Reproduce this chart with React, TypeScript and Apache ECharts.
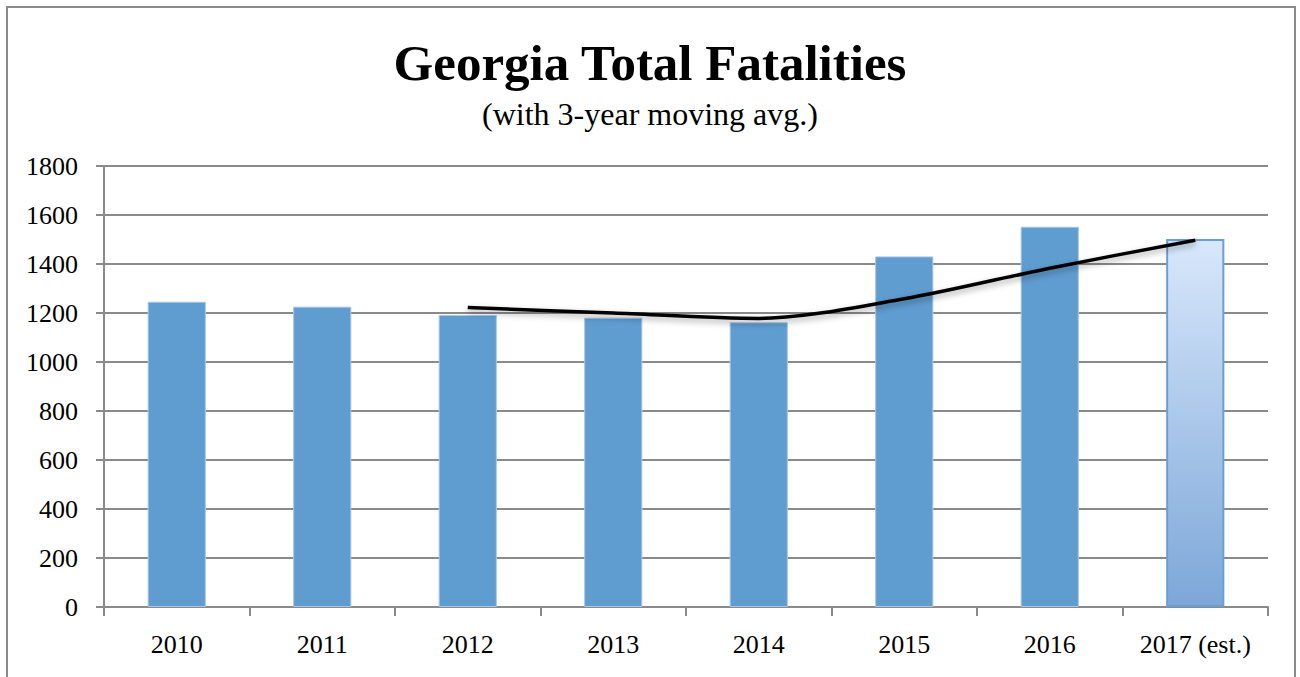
import React, { useEffect, useRef } from "react";
import * as echarts from "echarts";

const categories = ["2010", "2011", "2012", "2013", "2014", "2015", "2016", "2017 (est.)"];
const fatalities = [1246, 1226, 1192, 1181, 1162, 1431, 1552, 1502];
const movingAvg = [null, null, 1222, 1200, 1178, 1258, 1383, 1497];
const yTicks = { min: 0, max: 1800, interval: 200 };
const titleText = "Georgia Total Fatalities";
const subtitleText = "(with 3-year moving avg.)";

const FONT = "'Liberation Serif', 'DejaVu Serif', serif";
const GRAY = "#8a8a8a";

export default function App() {
  const ref = useRef<HTMLDivElement>(null);
  useEffect(() => {
    if (!ref.current) return;
    const chart = echarts.init(ref.current, undefined, { renderer: "svg" });
    const barData = fatalities.map((v, i) =>
      i === fatalities.length - 1
        ? {
            value: v,
            itemStyle: {
              color: new echarts.graphic.LinearGradient(0, 0, 0, 1, [
                { offset: 0, color: "#d8e7fb" },
                { offset: 1, color: "#7da7d8" },
              ]),
              borderColor: "#6a9fd6",
              borderWidth: 2,
            },
          }
        : v
    );
    chart.setOption({
      animation: false,
      backgroundColor: "#ffffff",
      title: [
        {
          text: titleText,
          left: "center",
          top: 32,
          textStyle: { fontFamily: FONT, fontWeight: "bold", fontSize: 51, color: "#000" },
        },
        {
          text: subtitleText,
          left: "center",
          top: 93,
          textStyle: { fontFamily: FONT, fontWeight: "normal", fontSize: 32, color: "#000" },
        },
      ],
      graphic: [
        {
          type: "rect",
          shape: { x: 7, y: 7, width: 1288, height: 720 },
          style: { fill: "none", stroke: GRAY, lineWidth: 2 },
          silent: true,
        },
      ],
      grid: { left: 104, right: 32, top: 166, bottom: 70, containLabel: false },
      xAxis: {
        type: "category",
        data: categories,
        axisLine: { lineStyle: { color: GRAY, width: 2 } },
        axisTick: { show: true, length: 9, lineStyle: { color: GRAY, width: 2 }, alignWithLabel: false },
        axisLabel: { fontFamily: FONT, fontSize: 26, color: "#000", margin: 24 },
      },
      yAxis: {
        type: "value",
        min: yTicks.min,
        max: yTicks.max,
        interval: yTicks.interval,
        axisLine: { show: true, lineStyle: { color: GRAY, width: 2 } },
        axisTick: { show: true, length: 8, lineStyle: { color: GRAY, width: 2 } },
        axisLabel: {
          fontFamily: FONT,
          fontSize: 26,
          color: "#000",
          margin: 26,
          formatter: (v: number) => String(v),
        },
        splitLine: { lineStyle: { color: GRAY, width: 2 } },
      },
      series: [
        {
          type: "bar",
          data: barData,
          barWidth: "40%",
          itemStyle: { color: "#5f9cd0", borderColor: "#a9c8e8", borderWidth: 1 },
        },
        {
          type: "line",
          data: movingAvg,
          smooth: 0.3,
          symbol: "none",
          connectNulls: false,
          lineStyle: {
            color: "#000",
            width: 3.5,
            shadowColor: "rgba(0,0,0,0.35)",
            shadowBlur: 6,
            shadowOffsetY: 3,
          },
        },
      ],
    });
    return () => chart.dispose();
  }, []);
  return (
    <div
      ref={ref}
      style={{ position: "fixed", left: 0, top: 0, width: 1300, height: 677 }}
    />
  );
}
